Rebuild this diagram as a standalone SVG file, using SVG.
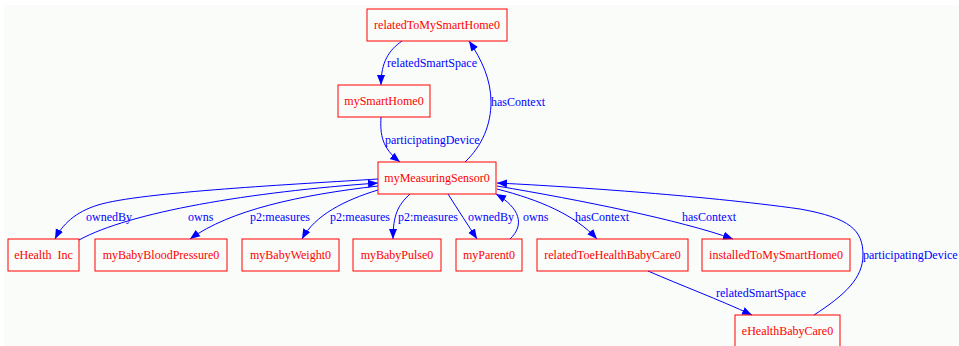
<svg xmlns="http://www.w3.org/2000/svg" width="959" height="346" viewBox="0 0 959 346">
<style>
.n rect{fill:none;stroke:#ff0000;stroke-width:1}
.n text{fill:#ff0000;font-family:"Liberation Serif","Times New Roman",serif;font-size:12px;text-anchor:middle;white-space:pre}
.e path{fill:none;stroke:#0000ff;stroke-width:1;marker-end:url(#ah)}
.e text{fill:#0000ff;font-family:"Liberation Serif","Times New Roman",serif;font-size:12px}
</style>
<defs>
<marker id="ah" markerUnits="userSpaceOnUse" markerWidth="11" markerHeight="10" refX="10" refY="0" viewBox="0 -5 11 10" orient="auto">
<path d="M0,-4 L10,0 L0,4 z" fill="#0000ff"/>
</marker>
</defs>
<rect x="4" y="5" width="955" height="341" fill="#fafcf9"/>
<g id="edges" class="e">
<path d="M402,41 C389,50 381,62 381,85"/>
<text x="387" y="67">relatedSmartSpace</text>
<path d="M465,162 C482,146 491,125 491,102 C491,80 482,60 469,41"/>
<text x="491" y="106">hasContext</text>
<path d="M381,117 C380,135 382,148 400,162"/>
<text x="385" y="144">participatingDevice</text>
<path d="M378,179 C300,184 140,192 98,205 C75,212 62,225 55,239"/>
<text x="86" y="221">ownedBy</text>
<path d="M79,240 C130,212 250,192 378,183"/>
<text x="188" y="221">owns</text>
<path d="M378,186 C300,195 230,210 190,239"/>
<text x="250" y="221">p2:measures</text>
<path d="M378,190 C345,200 315,215 302,239"/>
<text x="330" y="221">p2:measures</text>
<path d="M410,194 C398,205 393,215 393,239"/>
<text x="398" y="221">p2:measures</text>
<path d="M448,194 C458,210 468,225 477,239"/>
<text x="468" y="221">ownedBy</text>
<path d="M510,239 C525,225 520,208 496,194"/>
<text x="523" y="221">owns</text>
<path d="M497,189 C540,200 575,215 597,239"/>
<text x="575" y="221">hasContext</text>
<path d="M497,186 C580,200 680,220 733,239"/>
<text x="682" y="221">hasContext</text>
<path d="M814,315 C845,295 863,278 863,255 C863,230 850,218 800,209 C700,195 560,186 497,183"/>
<text x="863" y="259">participatingDevice</text>
<path d="M648,271 C680,285 720,300 752,315"/>
<text x="716" y="297">relatedSmartSpace</text>
</g>
<g id="relatedToMySmartHome0" class="n"><rect x="367" y="9" width="140" height="32"/><text x="437" y="29">relatedToMySmartHome0</text></g>
<g id="mySmartHome0" class="n"><rect x="338" y="85" width="92" height="32"/><text x="384" y="105">mySmartHome0</text></g>
<g id="myMeasuringSensor0" class="n"><rect x="378" y="162" width="118" height="32"/><text x="437" y="182">myMeasuringSensor0</text></g>
<g id="eHealth_Inc" class="n"><rect x="8" y="239" width="71" height="32"/><text x="43.5" y="259">eHealth  Inc</text></g>
<g id="myBabyBloodPressure0" class="n"><rect x="95" y="239" width="132" height="32"/><text x="161" y="259">myBabyBloodPressure0</text></g>
<g id="myBabyWeight0" class="n"><rect x="242" y="239" width="97" height="32"/><text x="290.5" y="259">myBabyWeight0</text></g>
<g id="myBabyPulse0" class="n"><rect x="353" y="239" width="88" height="32"/><text x="397" y="259">myBabyPulse0</text></g>
<g id="myParent0" class="n"><rect x="456" y="239" width="66" height="32"/><text x="489" y="259">myParent0</text></g>
<g id="relatedToeHealthBabyCare0" class="n"><rect x="537" y="239" width="151" height="32"/><text x="612.5" y="259">relatedToeHealthBabyCare0</text></g>
<g id="installedToMySmartHome0" class="n"><rect x="702" y="239" width="148" height="32"/><text x="776" y="259">installedToMySmartHome0</text></g>
<g id="eHealthBabyCare0" class="n"><rect x="735" y="315" width="105" height="32"/><text x="787.5" y="335">eHealthBabyCare0</text></g>
</svg>
